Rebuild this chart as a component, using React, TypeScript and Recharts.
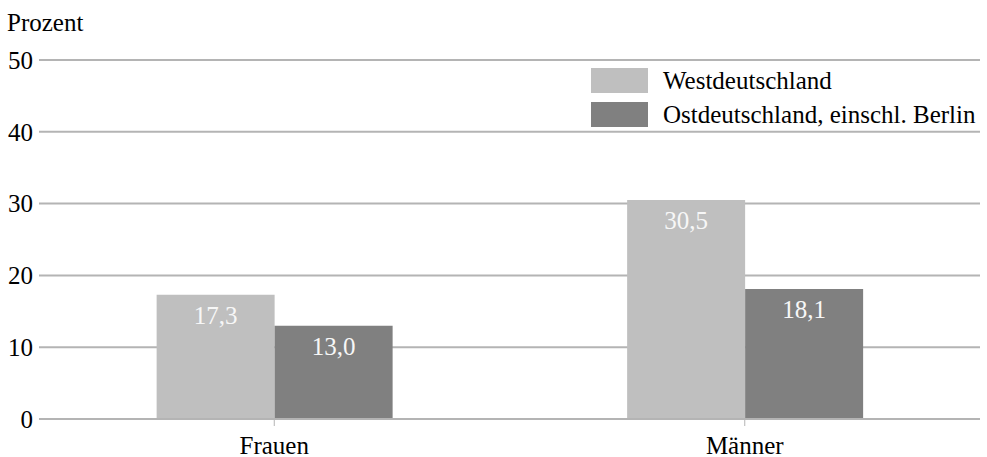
import React from 'react';
import { BarChart, Bar, XAxis, YAxis, CartesianGrid, Legend, LabelList } from 'recharts';

const categories = ['Frauen', 'Männer'];
const westValues = [17.3, 30.5];
const ostValues = [13.0, 18.1];
const yTicks = [0, 10, 20, 30, 40, 50];
const seriesNames = ['Westdeutschland', 'Ostdeutschland, einschl. Berlin'];
const yTitle = 'Prozent';

const data = categories.map((c, i) => ({ name: c, west: westValues[i], ost: ostValues[i] }));

const FONT = '"Liberation Serif", "Times New Roman", serif';
const COLORS = ['#bfbfbf', '#808080'];
const GRID = '#b4b4b4';

const fmt = (v: number) => v.toFixed(1).replace('.', ',');

const renderLabel = (props: any) => {
  const { x, y, width, value } = props;
  return (
    <text
      x={Number(x) + Number(width) / 2}
      y={Number(y) + 29}
      textAnchor="middle"
      fill="#f7f7f7"
      fontFamily={FONT}
      fontSize={25}
    >
      {fmt(Number(value))}
    </text>
  );
};

const LegendContent = () => (
  <div style={{ fontFamily: FONT, fontSize: 25, color: '#000' }}>
    {seriesNames.map((n, i) => (
      <div key={n} style={{ display: 'flex', alignItems: 'center', height: 25, marginBottom: i === 0 ? 9 : 0, whiteSpace: 'nowrap' }}>
        <div style={{ width: 57, height: 25, background: COLORS[i], marginRight: 15, flex: 'none' }} />
        <span style={{ lineHeight: '25px' }}>{n}</span>
      </div>
    ))}
  </div>
);

export default function App() {
  return (
    <div style={{ position: 'absolute', left: 0, top: 0, width: 987, height: 457, background: '#fff' }}>
      <BarChart
        width={987}
        height={457}
        data={data}
        margin={{ top: 60, right: 7, bottom: 0, left: 0 }}
        barCategoryGap="25%"
        barGap={0}
      >
        <CartesianGrid horizontal vertical={false} stroke={GRID} strokeWidth={2} />
        <XAxis
          dataKey="name"
          height={38}
          axisLine={{ stroke: GRID, strokeWidth: 2 }}
          tickLine={{ stroke: GRID, strokeWidth: 1 }}
          tickSize={7}
          tickMargin={10}
          tick={{ fill: '#000', fontFamily: FONT, fontSize: 25 }}
        />
        <YAxis
          width={39}
          domain={[0, 50]}
          ticks={yTicks}
          axisLine={false}
          tickLine={false}
          tickSize={4}
          tickMargin={2}
          tick={{ fill: '#000', fontFamily: FONT, fontSize: 25 }}
          label={{
            content: () => (
              <text x={7} y={31} fill="#000" fontFamily={FONT} fontSize={25}>
                {yTitle}
              </text>
            ),
          }}
        />
        <Legend
          layout="vertical"
          align="center"
          verticalAlign="middle"
          content={<LegendContent />}
          wrapperStyle={{ position: 'absolute', left: 591, top: 68, width: 396, height: 60 }}
        />
        <Bar dataKey="west" name={seriesNames[0]} fill={COLORS[0]} isAnimationActive={false}>
          <LabelList dataKey="west" content={renderLabel} />
        </Bar>
        <Bar dataKey="ost" name={seriesNames[1]} fill={COLORS[1]} isAnimationActive={false}>
          <LabelList dataKey="ost" content={renderLabel} />
        </Bar>
      </BarChart>
    </div>
  );
}
